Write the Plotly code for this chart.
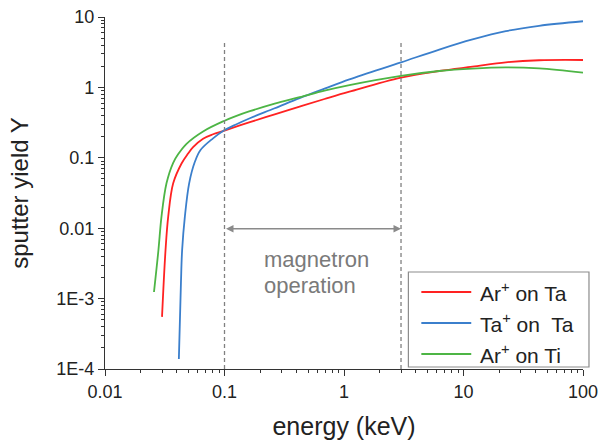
import math
import plotly.graph_objects as go

# Ar+ on Ta
ar_ta_E = [0.0300, 0.0321, 0.0338, 0.0372, 0.0437, 0.0496, 0.0546, 0.0662, 0.0802, 0.0972,
           0.163, 0.263, 0.425, 0.687, 1.11, 3.0, 6.27, 11.9, 22.6, 42.9, 100]
ar_ta_Y = [5.5e-4, 0.0049, 0.0146, 0.0434, 0.083, 0.115, 0.142, 0.187, 0.216, 0.240,
           0.321, 0.415, 0.535, 0.684, 0.869, 1.38, 1.71, 1.97, 2.27, 2.43, 2.45]

# Ta+ on Ta
ta_ta_E = [0.0415, 0.0432, 0.0442, 0.0466, 0.0506, 0.0564, 0.063, 0.0802, 0.0972,
           0.126, 0.163, 0.263, 0.425, 0.687, 1.11, 3.0, 6.27, 11.9, 22.6, 42.9, 100]
ta_ta_Y = [1.39e-4, 1.66e-3, 0.0049, 0.0146, 0.0434, 0.087, 0.129, 0.189, 0.240,
           0.300, 0.365, 0.505, 0.705, 0.960, 1.30, 2.27, 3.45, 4.80, 6.30, 7.50, 8.70]

# Ar+ on Ti
ar_ti_E = [0.0257, 0.0280, 0.0297, 0.0327, 0.0372, 0.0409, 0.0481, 0.0662, 0.100, 0.126,
           0.163, 0.263, 0.425, 0.687, 1.11, 3.0, 6.27, 11.9, 22.6, 42.9, 100]
ar_ti_Y = [1.24e-3, 0.0049, 0.0146, 0.0434, 0.085, 0.112, 0.158, 0.237, 0.336, 0.394,
           0.459, 0.589, 0.725, 0.900, 1.08, 1.46, 1.71, 1.85, 1.92, 1.86, 1.62]

series_names = ["Ar<sup>+</sup> on Ta", "Ta<sup>+</sup> on  Ta", "Ar<sup>+</sup> on Ti"]
series_colors = ["#ff2222", "#3b7fcc", "#4db545"]

x_tickvals = [0.01, 0.1, 1, 10, 100]
x_ticktext = ["0.01", "0.1", "1", "10", "100"]
y_tickvals = [1e-4, 1e-3, 0.01, 0.1, 1, 10]
y_ticktext = ["1E-4", "1E-3", "0.01", "0.1", "1", "10"]

magnetron_range = [0.1, 3]
vline_tops = [4.7, 4.3]
arrow_y = 0.0098

FONT = "Arial, Liberation Sans, sans-serif"
GRAY = "#808080"

fig = go.Figure()
for name, xs, ys, c in zip(series_names, [ar_ta_E, ta_ta_E, ar_ti_E],
                           [ar_ta_Y, ta_ta_Y, ar_ti_Y], series_colors):
    fig.add_trace(go.Scatter(x=xs, y=ys, mode="lines", name=name, showlegend=False,
                             line=dict(color=c, width=1.8, shape="spline", smoothing=1.0)))

for xv, top in zip(magnetron_range, vline_tops):
    fig.add_trace(go.Scatter(x=[xv, xv], y=[1e-4, top], mode="lines", showlegend=False,
                             hoverinfo="skip", line=dict(color=GRAY, width=1.3, dash="4px,3px")))

# double-headed arrow (log axes -> annotation coords in log10 units)
fig.add_annotation(x=math.log10(magnetron_range[1]), y=math.log10(arrow_y),
                   ax=math.log10(magnetron_range[0]), ay=math.log10(arrow_y),
                   xref="x", yref="y", axref="x", ayref="y", showarrow=True,
                   arrowhead=2, arrowside="end+start", arrowwidth=1.5, arrowcolor="#8a8a8a",
                   arrowsize=1.0, text="")
for txt, yp in [("magnetron", 0.3097), ("operation", 0.2386)]:
    fig.add_annotation(x=0.3278, y=yp, xref="paper", yref="paper", text=txt,
                       showarrow=False, xanchor="left", yanchor="middle",
                       font=dict(family=FONT, size=22, color="#7a7a7a"))

# legend box drawn in paper coordinates
fig.add_shape(type="rect", xref="paper", yref="paper", x0=0.6347, x1=1.0125, y0=0.0057, y1=0.2756,
              line=dict(color="#8c8c8c", width=1.2), fillcolor="white", layer="above")
for name, c, yp in zip(series_names, series_colors, [0.2188, 0.1307, 0.0426]):
    fig.add_shape(type="line", xref="paper", yref="paper", x0=0.6618, x1=0.7662, y0=yp, y1=yp,
                  line=dict(color=c, width=1.8), layer="above")
    fig.add_annotation(x=0.7808, y=yp, xref="paper", yref="paper", text=name, showarrow=False,
                       xanchor="left", yanchor="middle",
                       font=dict(family=FONT, size=21, color="#222"))

axis_common = dict(type="log", showgrid=False, zeroline=False, showline=True,
                   linecolor="#333", linewidth=1.2, ticks="outside", ticklen=6,
                   tickcolor="#333", tickwidth=1.2, ticklabeloverflow="allow",
                   tickfont=dict(family=FONT, size=18, color="#222"),
                   minor=dict(ticks="outside", ticklen=3, tickcolor="#333", tickwidth=1, dtick="D1"))

fig.update_xaxes(**axis_common, range=[-2, 2], tickvals=x_tickvals, ticktext=x_ticktext,
                 title=dict(text="energy (keV)", font=dict(family=FONT, size=25, color="#222"),
                            standoff=16))
fig.update_yaxes(**axis_common, range=[-4, 1], tickvals=y_tickvals, ticktext=y_ticktext,
                 title=dict(text="sputter yield Y", font=dict(family=FONT, size=24, color="#222"),
                            standoff=20))

fig.update_layout(
    width=598, height=447,
    margin=dict(l=105, r=15, t=17, b=78, autoexpand=False),
    plot_bgcolor="white", paper_bgcolor="white",
    font=dict(family=FONT, color="#222"),
    showlegend=False,
)

fig.write_html("out.html")
